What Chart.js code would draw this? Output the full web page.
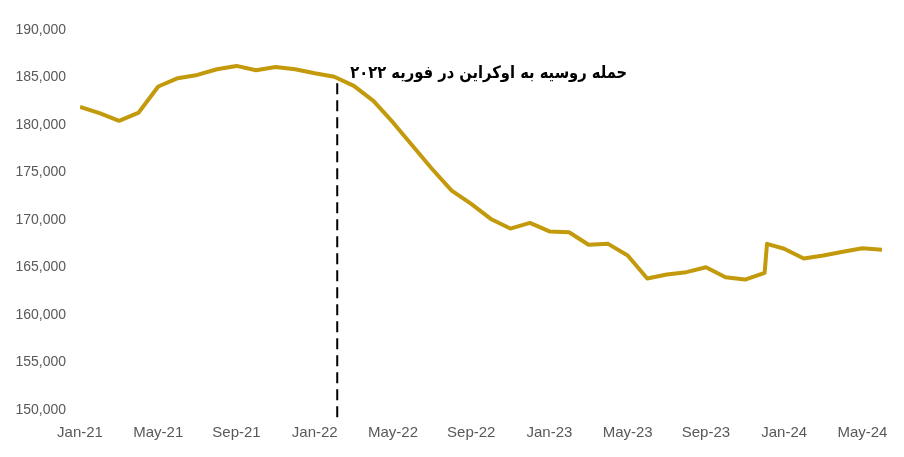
<!DOCTYPE html>
<html>
<head>
<meta charset="utf-8">
<script src="https://cdn.jsdelivr.net/npm/chart.js@4"></script>
<style>
  body { margin: 0; background: #fff; }
</style>
</head>
<body>
<canvas id="chart" width="904" height="457"></canvas>
<script>
// month labels, Jan-21 .. Jun-24
const monthLabels = [
  'Jan-21', 'Feb-21', 'Mar-21', 'Apr-21', 'May-21', 'Jun-21', 'Jul-21', 'Aug-21', 'Sep-21', 'Oct-21', 'Nov-21', 'Dec-21',
  'Jan-22', 'Feb-22', 'Mar-22', 'Apr-22', 'May-22', 'Jun-22', 'Jul-22', 'Aug-22', 'Sep-22', 'Oct-22', 'Nov-22', 'Dec-22',
  'Jan-23', 'Feb-23', 'Mar-23', 'Apr-23', 'May-23', 'Jun-23', 'Jul-23', 'Aug-23', 'Sep-23', 'Oct-23', 'Nov-23', 'Dec-23',
  'Jan-24', 'Feb-24', 'Mar-24', 'Apr-24', 'May-24', 'Jun-24'
];

// position of each observation in months since Jan-21 (Dec-23 has a revised second value)
const monthIndex = [
  0, 1, 2, 3, 4, 5, 6, 7, 8, 9, 10, 11,
  12, 13, 14, 15, 16, 17, 18, 19, 20, 21, 22, 23,
  24, 25, 26, 27, 28, 29, 30, 31, 32, 33, 34, 35, 35.12,
  36, 37, 38, 39, 40, 41
];

const values = [
  181900, 181250, 180440, 181310, 184050, 184930, 185270, 185870, 186220, 185770, 186110, 185870,
  185450, 185080, 184120, 182540, 180270, 177810, 175370, 173090, 171690, 170110, 169100, 169690,
  168800, 168710, 167400, 167490, 166260, 163850, 164260, 164510, 165030, 163980, 163730, 164440, 167490,
  166970, 165950, 166260, 166650, 167030, 166860
];

const yTicks = [150000, 155000, 160000, 165000, 170000, 175000, 180000, 185000, 190000];

const invasionMonth = 13.15; // Feb-22
const invasionText = 'حمله روسیه به اوکراین در فوریه ۲۰۲۲';

const points = monthIndex.map((m, i) => ({ x: m, y: values[i] }));

const invasionMarker = {
  id: 'invasionMarker',
  afterDatasetsDraw(chart) {
    const { ctx, scales: { x, y } } = chart;
    const px = x.getPixelForValue(invasionMonth);
    ctx.save();
    ctx.strokeStyle = '#000';
    ctx.lineWidth = 2;
    ctx.setLineDash([11, 6]);
    ctx.beginPath();
    ctx.moveTo(px, y.getPixelForValue(184400));
    ctx.lineTo(px, chart.chartArea.bottom + 10);
    ctx.stroke();
    ctx.setLineDash([]);
    ctx.fillStyle = '#000';
    ctx.font = 'bold 17px "DejaVu Sans"';
    ctx.textAlign = 'left';
    ctx.textBaseline = 'middle';
    ctx.fillText(invasionText, px + 13, y.getPixelForValue(185400), 277);
    ctx.restore();
  }
};

new Chart(document.getElementById('chart'), {
  type: 'line',
  data: {
    datasets: [{
      data: points,
      borderColor: '#C39A0B',
      borderWidth: 4,
      borderJoinStyle: 'round',
      pointRadius: 0,
      tension: 0,
    }],
  },
  options: {
    responsive: false,
    animation: false,
    layout: { padding: { top: 30, right: 22, left: 0, bottom: 0 } },
    plugins: {
      legend: { display: false },
      tooltip: { enabled: false },
    },
    scales: {
      x: {
        type: 'linear',
        min: 0,
        max: 41,
        grid: { display: false, drawTicks: false },
        border: { display: false },
        afterBuildTicks: (scale) => {
          scale.ticks = monthLabels.map((l, i) => ({ value: i })).filter((t) => t.value % 4 === 0);
        },
        afterFit: (scale) => { scale.height = 47; },
        ticks: {
          autoSkip: false,
          maxRotation: 0,
          padding: 14,
          color: '#595959',
          font: { family: '"Liberation Sans", Arial', size: 15 },
          callback: (v) => monthLabels[v],
        },
      },
      y: {
        min: 150000,
        max: 190000,
        grid: { display: false, drawTicks: false },
        border: { display: false },
        afterBuildTicks: (scale) => {
          scale.ticks = yTicks.map((v) => ({ value: v }));
        },
        afterFit: (scale) => { scale.width = 80; },
        ticks: {
          padding: 14,
          color: '#595959',
          font: { family: '"Liberation Sans", Arial', size: 14 },
          callback: (v) => v.toLocaleString('en-US'),
        },
      },
    },
  },
  plugins: [invasionMarker],
});
</script>
</body>
</html>
